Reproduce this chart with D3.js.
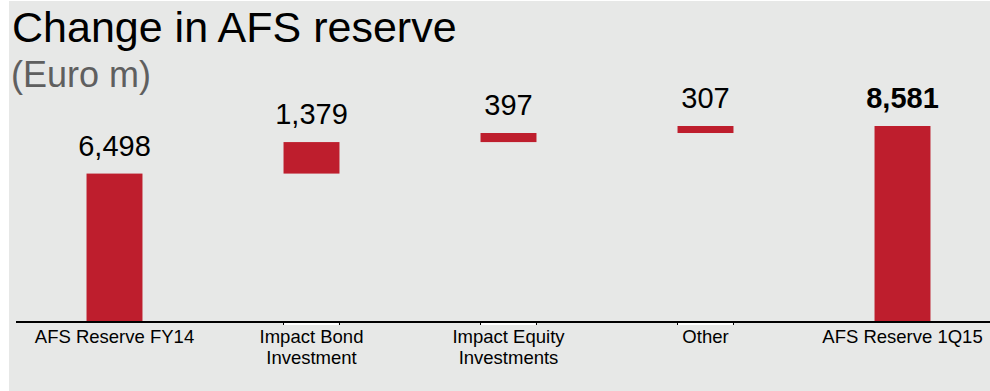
<!DOCTYPE html>
<html>
<head>
<meta charset="utf-8">
<script src="https://cdn.jsdelivr.net/npm/d3@7"></script>
<style>
  body { margin: 0; background: #fff; }
  text { font-family: "Liberation Sans", Arial, sans-serif; }
</style>
</head>
<body>
<svg id="chart" width="990" height="391"></svg>
<script>
// data
const categories = ["AFS Reserve FY14", "Impact Bond Investment", "Impact Equity Investments", "Other", "AFS Reserve 1Q15"];
const categoryLines = [["AFS Reserve FY14"], ["Impact Bond", "Investment"], ["Impact Equity", "Investments"], ["Other"], ["AFS Reserve 1Q15"]];
const values = [6498, 1379, 397, 307, 8581];
const isTotal = [true, false, false, false, true];
const valueLabels = ["6,498", "1,379", "397", "307", "8,581"];

const w = 990, h = 391;
const svg = d3.select("#chart");

// background panel
svg.append("rect").attr("x", 9).attr("y", 1).attr("width", w - 9).attr("height", h - 1).attr("fill", "#e7e8e7");

// waterfall extents
let running = 0;
const bars = values.map(function(v, i) {
  let lo, hi;
  if (isTotal[i]) { lo = 0; hi = v; running = v; }
  else { lo = running; hi = running + v; running = hi; }
  return { cat: categories[i], lo: lo, hi: hi, label: valueLabels[i], total: isTotal[i], lines: categoryLines[i] };
});

const xScale = d3.scaleBand()
  .domain(categories)
  .range([16, 1001])
  .paddingInner(0.716)
  .paddingOuter(0.358);

const yScale = d3.scaleLinear()
  .domain([0, d3.max(bars, d => d.hi)])
  .range([322, 126]);

// bars
svg.selectAll("rect.bar")
  .data(bars)
  .enter()
  .append("rect")
  .attr("class", "bar")
  .attr("x", d => xScale(d.cat))
  .attr("y", d => yScale(d.hi))
  .attr("width", xScale.bandwidth())
  .attr("height", d => yScale(d.lo) - yScale(d.hi))
  .attr("fill", "#be1e2d");

// value labels
svg.selectAll("text.val")
  .data(bars)
  .enter()
  .append("text")
  .attr("class", "val")
  .attr("x", d => xScale(d.cat) + xScale.bandwidth() / 2)
  .attr("y", d => yScale(d.hi) - 18)
  .attr("text-anchor", "middle")
  .attr("font-size", 29)
  .attr("font-weight", d => d.cat === "AFS Reserve 1Q15" ? "bold" : "normal")
  .attr("fill", "#000")
  .text(d => d.label);

// small ticks at floating bar edges
bars.filter(d => !d.total).forEach(function(d) {
  const x0 = xScale(d.cat), x1 = x0 + xScale.bandwidth();
  svg.append("rect").attr("x", x0).attr("y", 323).attr("width", x1 - x0).attr("height", 2).attr("fill", "#fff");
  [x0, x1].forEach(function(x) {
    svg.append("line").attr("x1", x).attr("x2", x).attr("y1", 322).attr("y2", 325)
      .attr("stroke", "#000").attr("stroke-width", 1);
  });
});

// axis baseline
svg.append("line")
  .attr("x1", 16).attr("x2", w)
  .attr("y1", 322).attr("y2", 322)
  .attr("stroke", "#000").attr("stroke-width", 2);

// category labels
const catG = svg.selectAll("text.cat")
  .data(bars)
  .enter()
  .append("text")
  .attr("class", "cat")
  .attr("text-anchor", "middle")
  .attr("font-size", 18.5)
  .attr("fill", "#000");
catG.selectAll("tspan")
  .data(d => d.lines.map(l => ({ l: l, x: xScale(d.cat) + xScale.bandwidth() / 2 })))
  .enter()
  .append("tspan")
  .attr("x", d => d.x)
  .attr("y", (d, i) => 343 + i * 21)
  .text(d => d.l);

// title
svg.append("text")
  .attr("x", 12).attr("y", 42)
  .attr("font-size", 43)
  .attr("fill", "#000")
  .text("Change in AFS reserve");

svg.append("text")
  .attr("x", 11).attr("y", 87)
  .attr("font-size", 36)
  .attr("fill", "#5f5f5f")
  .text("(Euro m)");
</script>
</body>
</html>
